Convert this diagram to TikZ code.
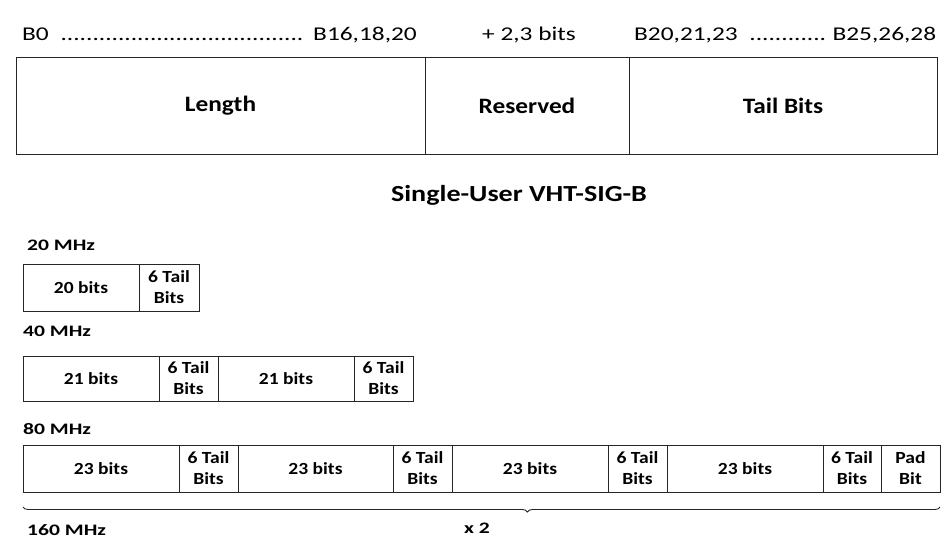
\documentclass[tikz,border=0pt]{standalone}
\usepackage{fontspec}
\setmainfont{Carlito}
\newfontfamily\hdrfont[FakeStretch=1.3]{Carlito}
\newfontfamily\ttlfont[FakeStretch=1.22]{Carlito}
\newfontfamily\lblfont[FakeStretch=1.15]{Carlito}
\newfontfamily\mhzfont[FakeStretch=1.35]{Carlito}
\usetikzlibrary{decorations.pathreplacing}
\begin{document}
\begin{tikzpicture}[x=1pt,y=-1pt,
  field/.style={draw=black!85, line width=0.9pt, inner sep=0pt, outer sep=0pt, anchor=north west, align=center},
  bigf/.style={font=\lblfont\fontsize{22}{26}\selectfont\bfseries},
  smallf/.style={font=\lblfont\fontsize{17}{21}\selectfont\bfseries},
  hdr/.style={font=\hdrfont\fontsize{19.5}{24}\selectfont, inner sep=0pt},
  mhz/.style={font=\mhzfont\fontsize{16}{20}\selectfont\bfseries, inner sep=0pt, anchor=base west},
  ttl/.style={font=\ttlfont\fontsize{23}{28}\selectfont\bfseries, inner sep=0pt, anchor=base}]
\useasboundingbox (0,0) rectangle (951,544);
% header
\node[hdr, anchor=base west] (h1) at (22,40) {\hbox to 395pt{B0 \leaders\hbox{.}\hfill\ B16,18,20}};
\node[hdr, anchor=base] (h2) at (529,40) {+ 2,3 bits};
\node[hdr, anchor=base west] (h3) at (634,40) {\hbox to 302pt{B20,21,23 \leaders\hbox{.}\hfill\ B25,26,28}};
% top fields
\node[field, bigf, minimum width=409, minimum height=97] (len) at (16,57) {Length};
\node[field, bigf, minimum width=204, minimum height=97] (res) at (425,57) {Reserved};
\node[field, bigf, minimum width=308, minimum height=97] (tail) at (629,57) {Tail Bits};
% title
\node[ttl] (title) at (519,201) {Single-User VHT-SIG-B};
% 20 MHz
\node[mhz] (l20) at (27,250) {20 MHz};
\node[field, smallf, minimum width=116, minimum height=47] (a1) at (23,264) {20 bits};
\node[field, smallf, minimum width=60, minimum height=47] (a2) at (139,264) {6 Tail\\Bits};
% 40 MHz
\node[mhz] (l40) at (23,336) {40 MHz};
\node[field, smallf, minimum width=136, minimum height=45] (b1) at (23,356) {21 bits};
\node[field, smallf, minimum width=59, minimum height=45] (b2) at (159,356) {6 Tail\\Bits};
\node[field, smallf, minimum width=136, minimum height=45] (b3) at (218,356) {21 bits};
\node[field, smallf, minimum width=59, minimum height=45] (b4) at (354,356) {6 Tail\\Bits};
% 80 MHz
\node[mhz] (l80) at (23,434) {80 MHz};
\node[field, smallf, minimum width=156, minimum height=47] (c1) at (23,445) {23 bits};
\node[field, smallf, minimum width=59, minimum height=47] (c2) at (179,445) {6 Tail\\Bits};
\node[field, smallf, minimum width=155, minimum height=47] (c3) at (238,445) {23 bits};
\node[field, smallf, minimum width=59, minimum height=47] (c4) at (393,445) {6 Tail\\Bits};
\node[field, smallf, minimum width=156, minimum height=47] (c5) at (452,445) {23 bits};
\node[field, smallf, minimum width=59, minimum height=47] (c6) at (608,445) {6 Tail\\Bits};
\node[field, smallf, minimum width=156, minimum height=47] (c7) at (667,445) {23 bits};
\node[field, smallf, minimum width=58, minimum height=47] (c8) at (823,445) {6 Tail\\Bits};
\node[field, smallf, minimum width=59, minimum height=47] (c9) at (881,445) {Pad\\Bit};
% brace
\coordinate (bl) at (23,507);
\coordinate (br) at (940,507);
\draw[black!85, line width=0.9pt, decorate, decoration={brace, amplitude=5pt, aspect=0.45}] (br) -- (bl);
\node[mhz] (l160) at (27,535) {160 MHz};
\node[mhz, anchor=base] (x2) at (477,533) {x 2};
\end{tikzpicture}
\end{document}
